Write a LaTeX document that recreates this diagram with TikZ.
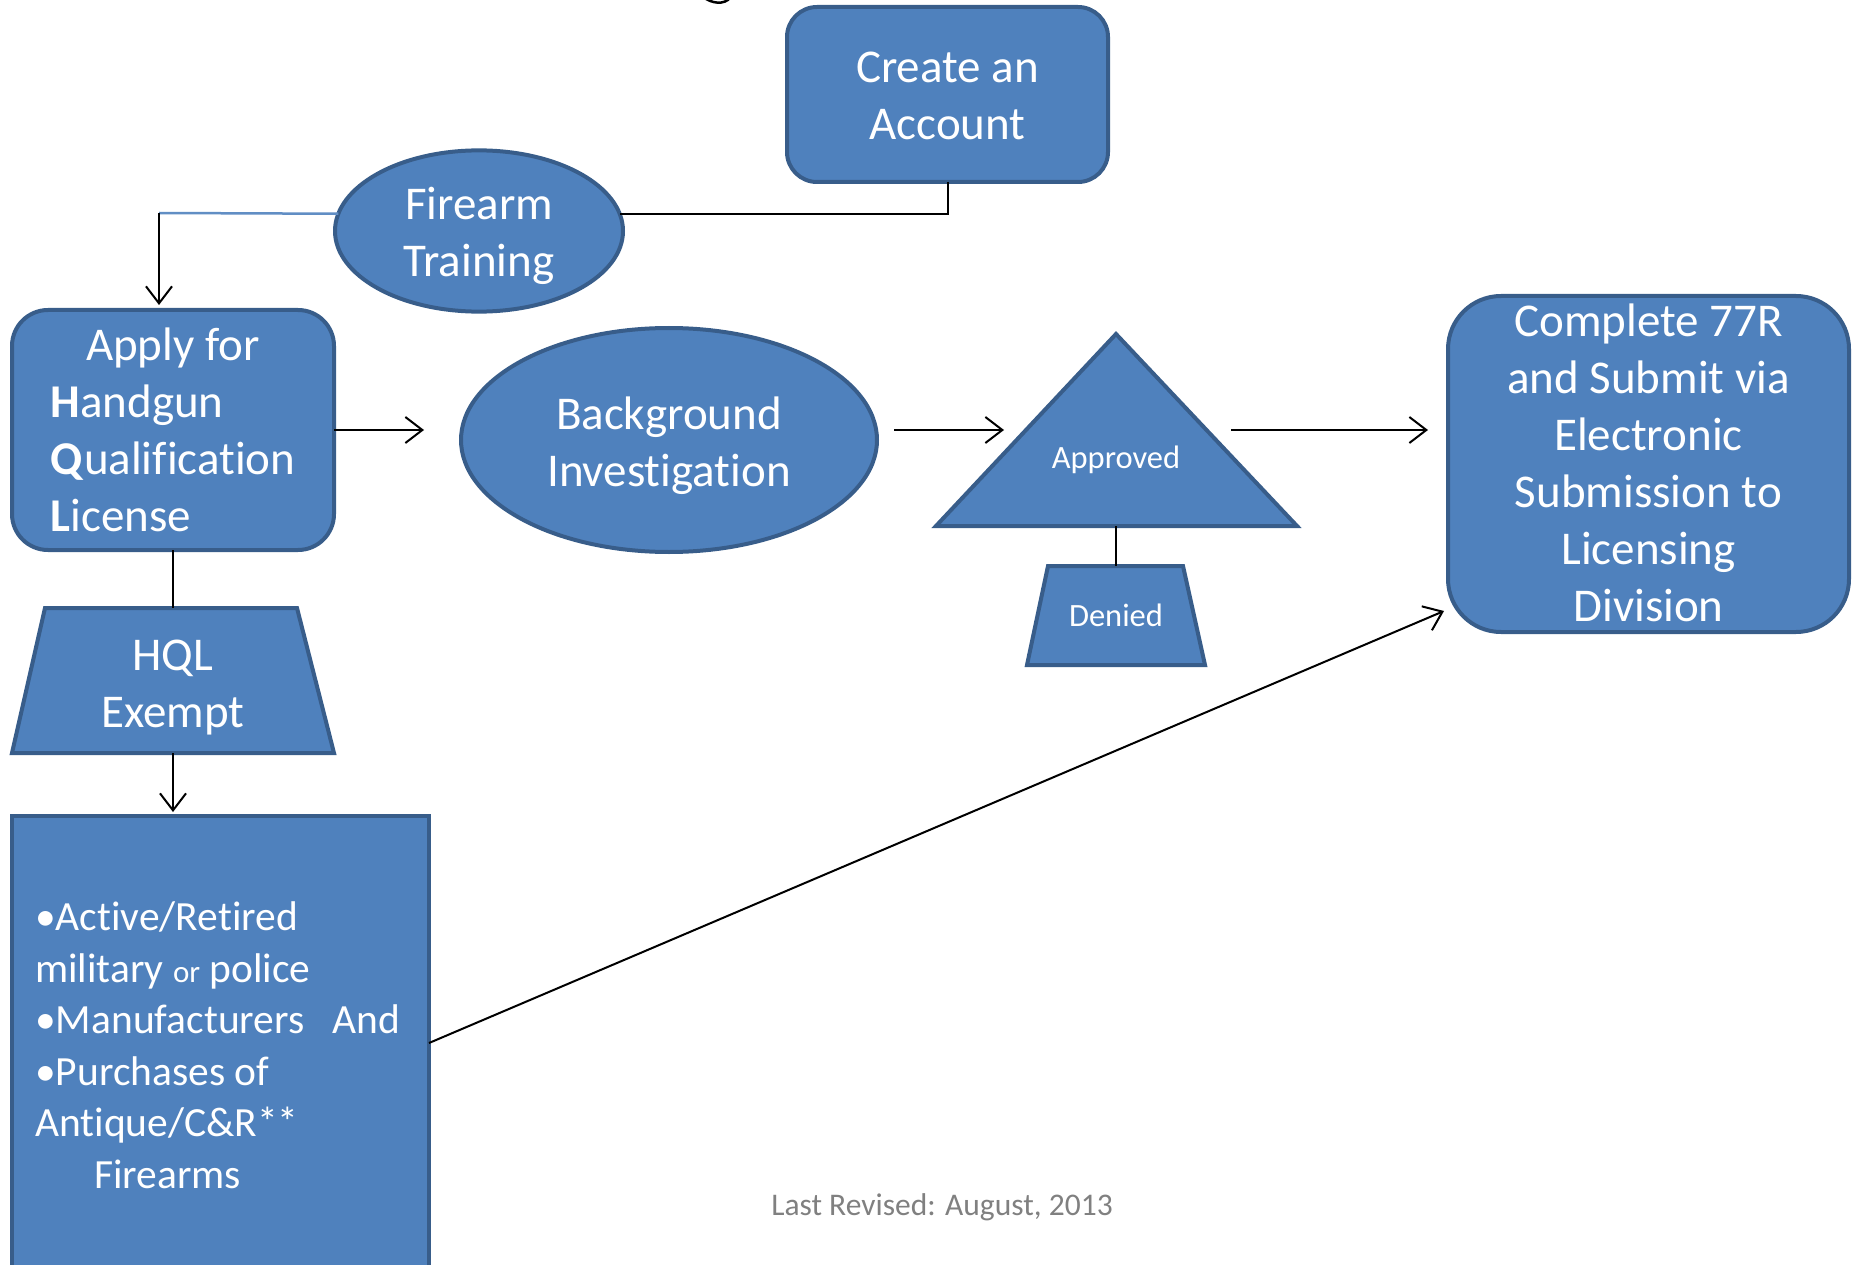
\documentclass[tikz,border=0pt]{standalone}
\usepackage{fontspec}
\setmainfont{Carlito}[Ligatures=NoCommon]
\usetikzlibrary{shapes.geometric,arrows.meta}
\definecolor{boxfill}{HTML}{4F81BD}
\definecolor{boxline}{HTML}{385D8A}
\definecolor{revgray}{HTML}{808080}
\newcommand{\ctext}[2]{\raisebox{-#1}[\height][\depth]{\begin{tabular}{@{}c@{}}#2\end{tabular}}}
\tikzset{
  shp/.style={fill=boxfill,draw=boxline,line width=4pt,text=white,inner sep=0pt,outer sep=0pt},
  bigtxt/.style={font=\fontsize{47}{57}\selectfont,align=center},
  rbox/.style={shp,rectangle,bigtxt},
  ell/.style={shp,ellipse,bigtxt},
  shapefill/.style={fill=boxfill,draw=boxline,line width=4pt},
  lbl/.style={text=white,inner sep=0pt},
  conn/.style={line width=2pt,black},
  arr/.style={conn,-{Straight Barb[length=17pt,width=26pt,line width=2pt]}},
  blueconn/.style={line width=2.5pt,draw=boxfill!90!white},
}
\begin{document}
\begin{tikzpicture}[x=1pt,y=-1pt]
\useasboundingbox (0,0) rectangle (1856,1265);
% stray curve fragment at top
\draw[line width=2.5pt] (703,-3) .. controls (711,3) and (724,6) .. (731,-3);
% nodes
\node[rbox,rounded corners=30pt,minimum width=321pt,minimum height=175pt] (acct) at (947.5,94.5) {\ctext{5pt}{Create an\\Account}};
\node[ell,minimum width=288pt,minimum height=158pt] (fire) at (479,231) {\ctext{6pt}{Firearm\\Training}};
\node[rbox,rounded corners=36pt,minimum width=322pt,minimum height=240pt] (apply) at (173,430)
  {\raisebox{-5pt}[\height][\depth]{\begin{tabular}{@{}l@{}}\multicolumn{1}{@{}c@{}}{Apply for}\\\textbf{H}andgun\\\textbf{Q}ualification\\\textbf{L}icense\end{tabular}}};
\node[ell,minimum width=416pt,minimum height=224pt] (bg) at (669,440) {\ctext{7pt}{Background\\Investigation}};
% triangle (Approved)
\coordinate (tapex) at (1116,334);
\coordinate (tbl) at (936,526);
\coordinate (tbr) at (1297,526);
\coordinate (tbase) at (1116,526);
\filldraw[shapefill] (tapex) -- (tbr) -- (tbl) -- cycle;
\node[lbl,font=\fontsize{32.5}{39}\selectfont] (appr) at (1116,460) {Approved};
% trapezium (Denied)
\coordinate (dtl) at (1048,566);
\coordinate (dtr) at (1183,566);
\coordinate (dbr) at (1205,665);
\coordinate (dbl) at (1027,665);
\coordinate (dtop) at (1116,566);
\filldraw[shapefill] (dtl) -- (dtr) -- (dbr) -- (dbl) -- cycle;
\node[lbl,font=\fontsize{32.5}{39}\selectfont] (denied) at (1116,615) {Denied};
\node[rbox,rounded corners=53pt,minimum width=401pt,minimum height=336pt] (complete) at (1648.5,464)
  {\raisebox{-4pt}[\dimexpr\height-3.5pt\relax][\dimexpr\depth-3.5pt\relax]{\begin{tabular}{@{}c@{}}Complete 77R\\and Submit via\\Electronic\\Submission to\\Licensing\\Division\end{tabular}}};
% trapezium (HQL Exempt)
\coordinate (htl) at (45,608);
\coordinate (htr) at (297,608);
\coordinate (hbr) at (334,753);
\coordinate (hbl) at (12,753);
\coordinate (htop) at (173,608);
\coordinate (hbot) at (173,753);
\filldraw[shapefill] (htl) -- (htr) -- (hbr) -- (hbl) -- cycle;
\node[lbl,bigtxt] (hql) at (173,680.5) {\ctext{7.5pt}{HQL\\Exempt}};
% big box
\node[shp,rectangle,minimum width=417pt,minimum height=454pt] (big) at (220.5,1043) {};
\node[anchor=north west,text=white,inner sep=0pt,align=left,font=\fontsize{41.5}{51.6}\selectfont] (bigtext) at (35,901.5)
  {•Active/Retired\\military {\fontsize{31}{40}\selectfont or} police\\•Manufacturers\ \ \ And\\•Purchases of\\Antique/C\&R**\\\hspace*{59pt}Firearms};
\node[text=revgray,font=\fontsize{31.5}{38}\selectfont] (rev) at (942,1207) {Last Revised: August, 2013};
% connectors
\draw[conn] (acct.south) |- (fire.7);
\coordinate (c1) at (159,213);
\draw[blueconn] (fire.173) -- (c1);
\draw[arr] (c1) -- ([yshift=5pt]c1 |- apply.north);
\draw[arr,shorten >=37pt] (apply.east |- 0,430) -- (bg.west |- 0,430);
\coordinate (bgout) at (894,430);
\coordinate (trin) at (1004,430);
\draw[arr] (bgout) -- (trin);
\coordinate (trout) at (1231,430);
\coordinate (cin) at (1428,430);
\draw[arr] (trout) -- (cin);
\draw[conn] (tbase) -- (dtop);
\draw[conn] (apply.south) -- (htop);
\draw[arr,shorten >=4pt] (hbot) -- (hbot |- big.north);
\coordinate (cin2) at ([xshift=-4pt,yshift=21pt]complete.south west);
\draw[arr] (big.east) -- (cin2);
\end{tikzpicture}
\end{document}
